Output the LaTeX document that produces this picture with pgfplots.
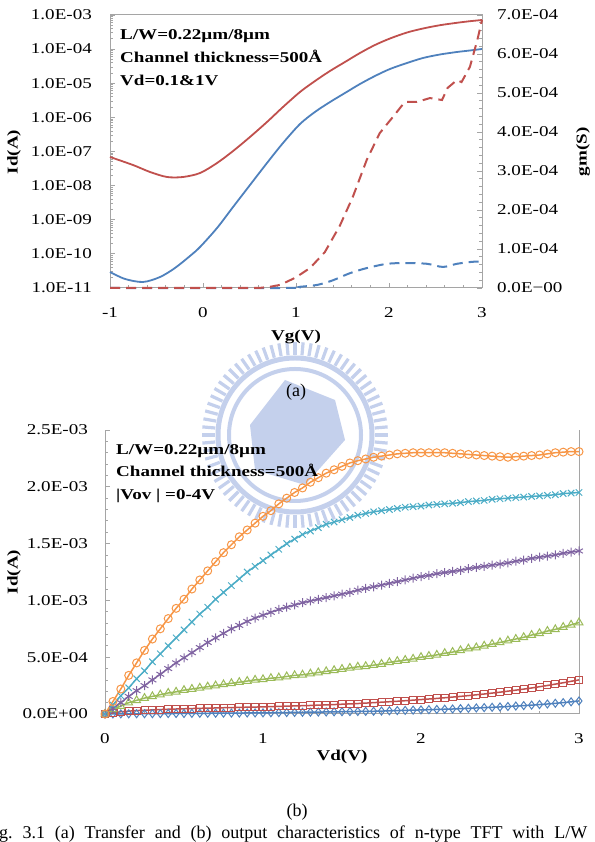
\documentclass[border=0pt]{standalone}
\usepackage{fontspec}
\setmainfont{Liberation Serif}[FakeStretch=1.27]
\newfontfamily\capfont{Liberation Serif}
\usepackage{pgfplots}
\pgfplotsset{compat=1.18}
\usepackage{pgfplotstable}
\definecolor{exred}{RGB}{192,80,77}
\definecolor{exblue}{RGB}{79,129,189}
\definecolor{exgreen}{RGB}{155,187,89}
\definecolor{expurple}{RGB}{128,100,162}
\definecolor{exteal}{RGB}{75,172,198}
\definecolor{exorange}{RGB}{247,150,70}
\definecolor{axgray}{RGB}{165,165,165}
\definecolor{wm}{RGB}{196,208,236}

\pgfplotstableread{
vd blue red green purple teal orange
0.00 0 0 0 0 0 0
0.05 0.0005 0.010 0.040 0.050 0.080 0.11
0.10 0.001 0.020 0.070 0.100 0.160 0.22
0.15 0.0015 0.025 0.100 0.155 0.230 0.34
0.20 0.002 0.030 0.120 0.205 0.310 0.45
0.25 0.0025 0.033 0.140 0.250 0.380 0.56
0.30 0.003 0.036 0.155 0.300 0.460 0.66
0.35 0.0035 0.039 0.170 0.350 0.530 0.75
0.40 0.004 0.042 0.185 0.400 0.600 0.84
0.45 0.0045 0.044 0.195 0.450 0.670 0.93
0.50 0.005 0.046 0.210 0.495 0.740 1.01
0.55 0.0055 0.048 0.220 0.540 0.810 1.10
0.60 0.006 0.050 0.230 0.585 0.880 1.18
0.65 0.0065 0.052 0.240 0.630 0.940 1.26
0.70 0.007 0.053 0.250 0.670 1.010 1.34
0.75 0.0075 0.055 0.260 0.710 1.070 1.42
0.80 0.008 0.056 0.270 0.750 1.130 1.49
0.85 0.0085 0.058 0.280 0.780 1.190 1.56
0.90 0.009 0.060 0.290 0.815 1.250 1.62
0.95 0.0095 0.061 0.300 0.845 1.300 1.68
1.00 0.010 0.063 0.305 0.870 1.350 1.74
1.05 0.011 0.065 0.315 0.895 1.400 1.79
1.10 0.012 0.067 0.320 0.920 1.450 1.85
1.15 0.013 0.069 0.330 0.940 1.500 1.90
1.20 0.014 0.071 0.340 0.960 1.540 1.95
1.25 0.015 0.073 0.345 0.980 1.580 1.99
1.30 0.016 0.075 0.355 0.995 1.610 2.04
1.35 0.017 0.078 0.365 1.010 1.640 2.08
1.40 0.018 0.080 0.375 1.025 1.670 2.12
1.45 0.019 0.083 0.385 1.040 1.690 2.15
1.50 0.020 0.086 0.395 1.055 1.710 2.18
1.55 0.021 0.089 0.405 1.070 1.730 2.21
1.60 0.022 0.092 0.415 1.090 1.750 2.23
1.65 0.023 0.096 0.420 1.105 1.765 2.245
1.70 0.024 0.100 0.430 1.120 1.780 2.26
1.75 0.026 0.104 0.440 1.135 1.790 2.27
1.80 0.028 0.108 0.455 1.150 1.800 2.28
1.85 0.030 0.112 0.465 1.165 1.810 2.29
1.90 0.032 0.117 0.475 1.180 1.820 2.295
1.95 0.034 0.122 0.485 1.195 1.825 2.30
2.00 0.036 0.127 0.500 1.210 1.830 2.30
2.05 0.038 0.132 0.510 1.220 1.840 2.30
2.10 0.040 0.137 0.520 1.235 1.845 2.30
2.15 0.042 0.143 0.535 1.245 1.850 2.30
2.20 0.044 0.149 0.545 1.255 1.855 2.295
2.25 0.047 0.155 0.560 1.265 1.860 2.29
2.30 0.050 0.162 0.575 1.280 1.870 2.285
2.35 0.053 0.169 0.585 1.290 1.875 2.28
2.40 0.056 0.176 0.600 1.300 1.880 2.275
2.45 0.059 0.184 0.615 1.310 1.890 2.27
2.50 0.062 0.192 0.630 1.320 1.895 2.265
2.55 0.066 0.201 0.645 1.330 1.900 2.26
2.60 0.070 0.210 0.660 1.345 1.905 2.265
2.65 0.074 0.219 0.675 1.355 1.910 2.27
2.70 0.078 0.229 0.695 1.370 1.915 2.275
2.75 0.083 0.240 0.710 1.380 1.920 2.28
2.80 0.088 0.251 0.730 1.390 1.925 2.29
2.85 0.094 0.263 0.745 1.400 1.930 2.30
2.90 0.100 0.275 0.765 1.415 1.940 2.305
2.95 0.107 0.288 0.785 1.425 1.945 2.31
3.00 0.115 0.300 0.805 1.435 1.950 2.31
}\outdata

\pgfplotsset{
  excel/.style={
    scale only axis,
    axis line style={axgray, line width=1pt},
    tick style={axgray, line width=0.8pt},
    major tick length=5pt, minor tick length=3pt,
    tick align=inside,
    clip=false,
  }
}

\begin{document}
\begin{tikzpicture}[x=1pt,y=1pt,font=\fontsize{15}{18}\selectfont]
\useasboundingbox (0,0) rectangle (594,842);

% ---------- faint emblem in the background ----------
\begin{scope}[shift={(295,407)}]
  \foreach \a in {0,5,...,355} {
    \draw[wm, line width=3.2pt] (\a:80) -- (\a:93);
  }
  \draw[wm, line width=5pt] (0,0) circle (77);
  \draw[wm, line width=4pt] (0,0) circle (66);
  \fill[wm] (-45,10) -- (-10,55) -- (40,35) -- (50,-5) -- (10,-50) -- (-40,-35) -- cycle;
\end{scope}

% ---------- (a) transfer characteristics ----------
\begin{semilogyaxis}[excel,
  at={(110pt,554pt)}, anchor=south west, width=372pt, height=273pt,
  xmin=-1, xmax=3, ymin=1e-11, ymax=1e-3,
  xtick={-1,0,1,2,3}, xticklabels={-1,0,1,2,3},
  minor x tick num=4,
  ytick={1e-11,1e-10,1e-9,1e-8,1e-7,1e-6,1e-5,1e-4,1e-3},
  yticklabels={1.0E-11,1.0E-10,1.0E-09,1.0E-08,1.0E-07,1.0E-06,1.0E-05,1.0E-04,1.0E-03},
  minor ytick={2e-11,3e-11,4e-11,5e-11,6e-11,7e-11,8e-11,9e-11,
    2e-10,3e-10,4e-10,5e-10,6e-10,7e-10,8e-10,9e-10,
    2e-9,3e-9,4e-9,5e-9,6e-9,7e-9,8e-9,9e-9,
    2e-8,3e-8,4e-8,5e-8,6e-8,7e-8,8e-8,9e-8,
    2e-7,3e-7,4e-7,5e-7,6e-7,7e-7,8e-7,9e-7,
    2e-6,3e-6,4e-6,5e-6,6e-6,7e-6,8e-6,9e-6,
    2e-5,3e-5,4e-5,5e-5,6e-5,7e-5,8e-5,9e-5,
    2e-4,3e-4,4e-4,5e-4,6e-4,7e-4,8e-4,9e-4},
  ytick pos=left, xtick pos=bottom,
  yticklabel style={anchor=east, inner sep=0pt, xshift=-18pt},
  xticklabel style={anchor=north, inner sep=0pt, yshift=-19pt},
]
\addplot[exred, line width=1.8pt, smooth] coordinates {
(-1,6.90e-8)(-0.753,4.02e-8)(-0.570,2.51e-8)(-0.387,1.79e-8)(-0.215,1.79e-8)
(-0.032,2.34e-8)(0.151,4.60e-8)(0.323,1.03e-7)(0.505,2.66e-7)(0.688,7.32e-7)
(0.860,2.01e-6)(1.043,5.54e-6)(1.204,1.16e-5)(1.366,2.29e-5)(1.527,4.20e-5)
(1.688,7.70e-5)(1.849,1.32e-4)(2.011,2.05e-4)(2.194,3.07e-4)(2.366,4.02e-4)
(2.548,5.02e-4)(2.731,5.91e-4)(2.871,6.58e-4)(3.0,7.13e-4)};
\addplot[exblue, line width=1.8pt, smooth] coordinates {
(-1,2.94e-11)(-0.839,1.84e-11)(-0.645,1.50e-11)(-0.462,2.10e-11)(-0.301,3.86e-11)
(-0.140,8.67e-11)(-0.032,1.59e-10)(0.151,5.73e-10)(0.323,2.36e-9)(0.505,1.04e-8)
(0.688,4.60e-8)(0.860,1.77e-7)(1.043,6.39e-7)(1.204,1.44e-6)(1.366,2.82e-6)
(1.527,5.18e-6)(1.688,9.5e-6)(1.849,1.63e-5)(2.011,2.62e-5)(2.194,3.92e-5)
(2.366,5.50e-5)(2.548,6.96e-5)(2.731,8.24e-5)(2.871,9.12e-5)(3.0,1.01e-4)};
\end{semilogyaxis}

\begin{axis}[excel,
  at={(110pt,554pt)}, anchor=south west, width=372pt, height=273pt,
  xmin=-1, xmax=3, ymin=0, ymax=7,
  axis x line=none, axis y line*=right,
  ytick={0,1,2,3,4,5,6,7},
  yticklabels={0.0E−00,1.0E-04,2.0E-04,3.0E-04,4.0E-04,5.0E-04,6.0E-04,7.0E-04},
  minor y tick num=4,
  yticklabel style={anchor=west, inner sep=0pt, xshift=15pt},
]
\addplot[exblue, line width=2pt, dash pattern=on 10pt off 6pt, smooth] coordinates {
(-1,0)(0.9,0)(1.04,0.03)(1.23,0.08)(1.40,0.2)(1.58,0.38)(1.76,0.51)(1.98,0.62)
(2.19,0.64)(2.41,0.62)(2.58,0.54)(2.73,0.62)(2.89,0.67)(3.0,0.68)};
\addplot[exred, line width=2pt, dash pattern=on 10pt off 6pt] coordinates {
(-1,0)(0.6,0)(0.72,0.03)(0.83,0.08)(0.99,0.26)(1.15,0.51)(1.31,0.92)(1.47,1.59)
(1.61,2.33)(1.76,3.28)(1.90,3.97)(2.04,4.38)(2.17,4.77)(2.30,4.77)(2.44,4.87)
(2.57,4.82)(2.63,5.13)(2.73,5.33)(2.78,5.28)(2.87,5.67)(2.95,6.36)(3.0,6.87)};
\end{axis}

\node[anchor=base west, inner sep=0pt, font=\fontsize{15}{18}\selectfont\bfseries] at (120,802) {L/W=0.22µm/8µm};
\node[anchor=base west, inner sep=0pt, font=\fontsize{15}{18}\selectfont\bfseries] at (120,779) {Channel thickness=500Å};
\node[anchor=base west, inner sep=0pt, font=\fontsize{15}{18}\selectfont\bfseries] at (120,756) {Vd=0.1\&1V};
\node[rotate=90, inner sep=0pt, font=\fontsize{15}{18}\selectfont\bfseries] at (14,690) {Id(A)};
\node[rotate=90, inner sep=0pt, font=\fontsize{15}{18}\selectfont\bfseries] at (583,690) {gm(S)};
\node[inner sep=0pt, font=\fontsize{15}{18}\selectfont\bfseries] at (296,505) {Vg(V)};
\node[inner sep=0pt, font=\capfont\fontsize{18}{22}\selectfont] at (296,450) {(a)};

% ---------- (b) output characteristics ----------
\begin{axis}[excel,
  at={(105pt,128pt)}, anchor=south west, width=474pt, height=284pt,
  xmin=0, xmax=3, ymin=0, ymax=2.5,
  axis lines*=left,
  xtick={0,1,2,3}, xticklabels={0,1,2,3}, minor x tick num=3,
  ytick={0,0.5,1,1.5,2,2.5},
  yticklabels={0.0E+00,5.0E-04,1.0E-03,1.5E-03,2.0E-03,2.5E-03},
  minor y tick num=4,
  yticklabel style={anchor=east, inner sep=0pt, xshift=-17pt},
  xticklabel style={anchor=north, inner sep=0pt, yshift=-19pt},
  every axis plot/.append style={line width=1.5pt},
  mark options={solid, line width=1pt, fill=none},
]
\draw[axgray, line width=1pt] (rel axis cs:1,0) -- (rel axis cs:1,1);
\addplot[exblue, mark=diamond, mark size=4pt] table[x=vd, y=blue] {\outdata};
\addplot[exred, mark=square, mark size=3.5pt] table[x=vd, y=red] {\outdata};
\addplot[exgreen, mark=triangle, mark size=4.5pt] table[x=vd, y=green] {\outdata};
\addplot[expurple, mark=asterisk, mark size=4.5pt] table[x=vd, y=purple] {\outdata};
\addplot[exteal, mark=x, mark size=4.5pt] table[x=vd, y=teal] {\outdata};
\addplot[exorange, mark=o, mark size=4pt] table[x=vd, y=orange] {\outdata};
\end{axis}

\node[anchor=base west, inner sep=0pt, font=\fontsize{15}{18}\selectfont\bfseries] at (116,387) {L/W=0.22µm/8µm};
\node[anchor=base west, inner sep=0pt, font=\fontsize{15}{18}\selectfont\bfseries] at (116,365) {Channel thickness=500Å};
\node[anchor=base west, inner sep=0pt, font=\fontsize{15}{18}\selectfont\bfseries] at (116,342) {|Vov | =0-4V};
\node[rotate=90, inner sep=0pt, font=\fontsize{15}{18}\selectfont\bfseries] at (14,270) {Id(A)};
\node[inner sep=0pt, font=\fontsize{15}{18}\selectfont\bfseries] at (342,85) {Vd(V)};
\node[inner sep=0pt, font=\capfont\fontsize{18}{22}\selectfont] at (297,30) {(b)};
\node[anchor=base west, inner sep=0pt, font=\capfont\fontsize{18}{22}\selectfont] at (-16,3)
  {\hbox to 603pt{Fig.\hfill 3.1\hfill (a)\hfill Transfer\hfill and\hfill (b)\hfill output\hfill characteristics\hfill of\hfill n-type\hfill TFT\hfill with\hfill L/W}};
\end{tikzpicture}
\end{document}
